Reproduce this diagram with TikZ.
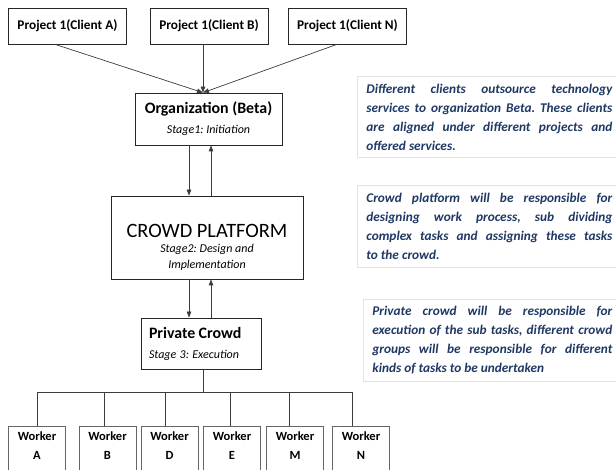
\documentclass[tikz,border=0pt]{standalone}
\usepackage{fontspec}
\setmainfont{Carlito}
\usepackage{xcolor}
\usetikzlibrary{arrows.meta}

\definecolor{notetext}{RGB}{31,56,100}
\definecolor{noteline}{RGB}{228,228,220}
\definecolor{linkgray}{RGB}{60,60,60}

\hyphenpenalty=10000
\exhyphenpenalty=10000
\frenchspacing

\begin{document}
\begin{tikzpicture}[x=1pt,y=-1pt,
  box/.style={draw=black!85, line width=0.7pt, inner sep=0pt, align=center},
  project/.style={box, minimum width=118pt, minimum height=36pt,
    font=\fontsize{13.3}{16}\selectfont\bfseries},
  worker/.style={draw=black!60, line width=0.7pt, inner sep=0pt,
    minimum width=57pt, minimum height=50pt, anchor=north},
  wlabel/.style={anchor=north, align=center, inner sep=3pt, yshift=-3pt,
    font=\fontsize{12.5}{19}\selectfont\bfseries},
  note/.style={draw=noteline, line width=0.8pt, anchor=north west,
    inner xsep=9pt, inner ysep=0pt, align=justify, text=notetext,
    font=\fontsize{13.3}{19}\selectfont\bfseries\itshape},
  link/.style={draw=linkgray, line width=0.7pt},
  arr/.style={link, -{Triangle[length=6pt,width=4.5pt]}}
]
\useasboundingbox (0,0) rectangle (616,470);

% clients
\node[project] (pA) at (67.5,26) {Project 1(Client A)};
\node[project] (pB) at (209,26) {Project 1(Client B)};
\node[project] (pN) at (347.5,26) {Project 1(Client N)};

% stages
\node[box, minimum width=147pt, minimum height=52pt] (org) at (208.5,119)
  {{\fontsize{15.9}{18}\selectfont\bfseries Organization (Beta)}\\[8pt]
   {\fontsize{12}{14}\selectfont\itshape Stage1: Initiation}};
\node[box, minimum width=192pt, minimum height=83pt] (crowd) at (207,237.5)
  {{\fontsize{20.4}{22}\selectfont\rule{0pt}{33pt}CROWD PLATFORM}\\[3pt]
   {\fontsize{12}{15}\selectfont\itshape Stage2: Design and}\\[4pt]
   {\fontsize{12}{15}\selectfont\itshape Implementation}};
\node[box, minimum width=120pt, minimum height=51pt, text width=104pt, align=left] (priv) at (201,343.5)
  {{\fontsize{15.9}{18}\selectfont\bfseries Private Crowd}\\[8pt]
   {\fontsize{12}{14}\selectfont\itshape Stage 3: Execution}};

% workers
\node[worker, label={[wlabel]north:Worker\\A}] (wA) at (37,426) {};
\node[worker, label={[wlabel]north:Worker\\B}] (wB) at (107.5,426) {};
\node[worker, label={[wlabel]north:Worker\\D}] (wD) at (169.5,426) {};
\node[worker, label={[wlabel]north:Worker\\E}] (wE) at (232,426) {};
\node[worker, label={[wlabel]north:Worker\\M}] (wM) at (295,426) {};
\node[worker, label={[wlabel]north:Worker\\N}] (wN) at (361,426) {};

% notes
\node[note, text width=246pt, minimum height=81pt] (n1) at (357,76)
  {Different clients outsource technology services to organization Beta. These clients are aligned under different projects and offered services.};
\node[note, text width=246pt, minimum height=82pt] (n2) at (357,185)
  {Crowd platform will be responsible for designing work process, sub dividing\linebreak complex tasks and assigning these tasks to the crowd.};
\node[note, text width=240pt, minimum height=82pt] (n3) at (363,299)
  {Private crowd will be responsible for execution of the sub tasks, different crowd groups will be responsible for different kinds of tasks to be undertaken};

% links
\draw[arr] ([xshift=-12.5pt]pA.south) -- ([xshift=-5.5pt]org.north);
\draw[arr] ([xshift=-6pt]pB.south) -- ([xshift=-5.5pt]org.north);
\draw[arr] ([xshift=-10.5pt]pN.south) -- ([xshift=-5.5pt]org.north);

\draw[arr] ([xshift=-19.5pt]org.south) -- ([xshift=-18pt]crowd.north);
\draw[arr] ([xshift=4pt]crowd.north) -- ([xshift=2.5pt]org.south);
\draw[arr] ([xshift=-18pt]crowd.south) -- ([xshift=-12pt]priv.north);
\draw[arr] ([xshift=10pt]priv.north) -- ([xshift=4pt]crowd.south);

\coordinate (bus) at (0,392);
\draw[link] ([xshift=2pt]priv.south) -- ([xshift=2pt]priv.south |- bus);
\draw[link] (wA.north |- bus) -- ([xshift=-9pt]wN.north |- bus);
\foreach \w/\dx in {wA/0, wB/-3.5, wD/-4.5, wE/-2, wM/-6, wN/-9}
  \draw[link] ([xshift=\dx pt]\w.north) -- ([xshift=\dx pt]\w.north |- bus);
\end{tikzpicture}
\end{document}
